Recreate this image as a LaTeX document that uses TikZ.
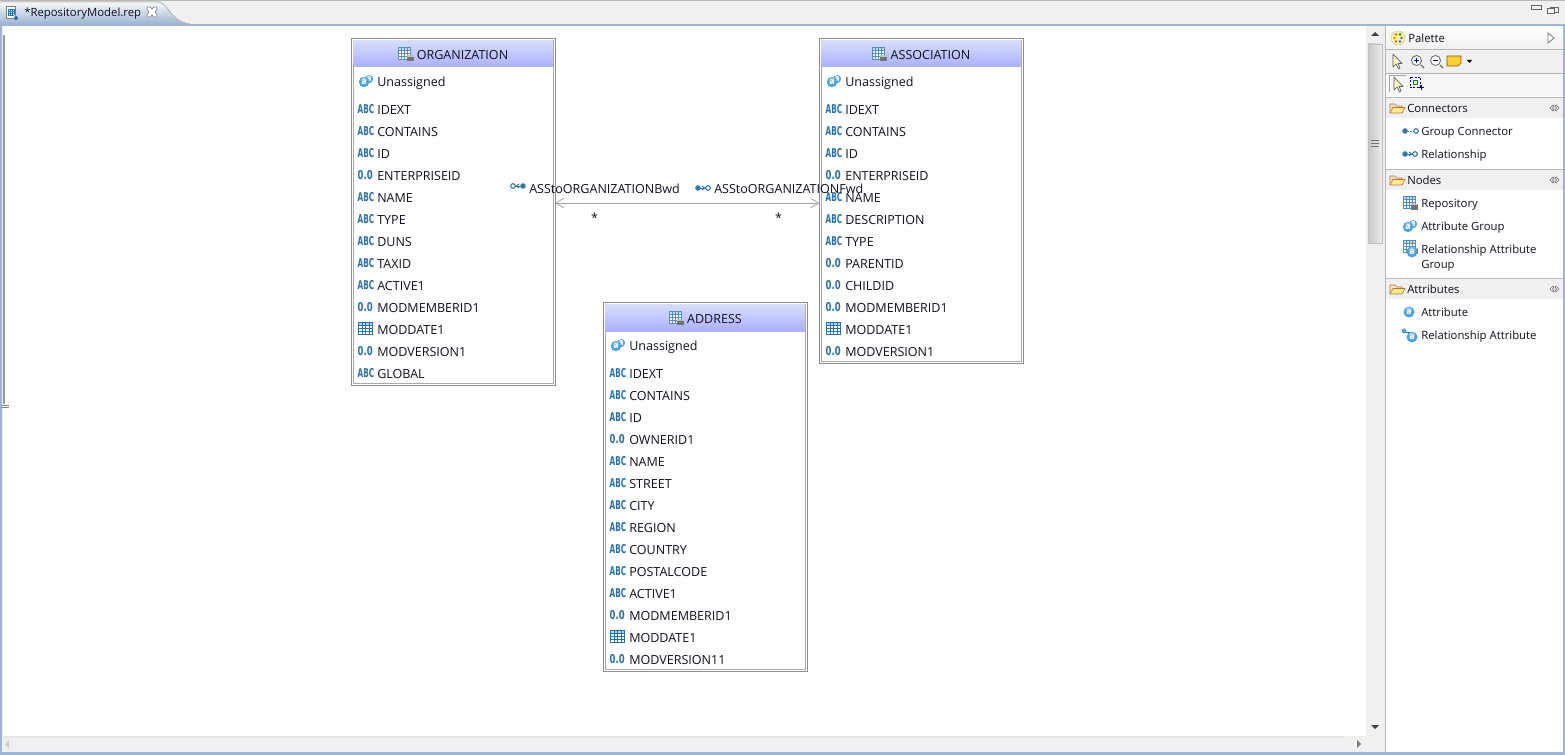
\documentclass[tikz,border=0pt]{standalone}
\usepackage{fontspec}
\setmainfont{Open Sans}
\newfontfamily\iconfont{DejaVu Sans}
\usetikzlibrary{arrows.meta,calc}
\definecolor{edgeg}{HTML}{8E8E8E}
\definecolor{hdrtop}{HTML}{D6DDFB}
\definecolor{hdrbot}{HTML}{ABAFFF}
\definecolor{iconb}{HTML}{2A6FA8}
\definecolor{iconl}{HTML}{4FA3DC}
\definecolor{tabblue}{HTML}{9DB5D2}
\definecolor{panelg}{HTML}{F0F0F0}
\definecolor{sepg}{HTML}{B8B8B8}
\definecolor{txt}{HTML}{10101E}
\newcommand{\fs}{\fontsize{9.4}{10}\selectfont}
\newcommand{\fp}{\fontsize{8.5}{10}\selectfont}
\tikzset{
  lbl/.style={anchor=base west,yshift=-3.9pt,inner sep=0pt,text=txt,font=\fs},
  plbl/.style={lbl,yshift=0.75pt,font=\fp},
  ctr/.style={inner sep=0pt,text=txt,font=\fs},
  entitybox/.style={draw=edgeg,fill=white,line width=0.75pt,anchor=north west,inner sep=0pt,outer sep=0pt,rectangle},
  innerrim/.style={draw=edgeg!75,line width=0.75pt},
  relline/.style={draw=edgeg!80,line width=0.6pt,{Straight Barb[length=6pt,width=7pt]}-{Straight Barb[length=6pt,width=7pt]}},
  mult/.style={inner sep=0pt,text=txt,font=\fs},
  tcell/.style={draw=iconb,line width=0.35pt},
}
\newcommand{\icABC}[2]{\node[anchor=west,inner sep=0pt,text=iconb,font=\iconfont\fontsize{7.6}{9}\bfseries\selectfont,xscale=0.72,yscale=1.2] at (#1,#2) {ABC};}
\newcommand{\icNum}[2]{\node[anchor=west,inner sep=0pt,text=iconb,font=\iconfont\fontsize{7.6}{9}\bfseries\selectfont,xscale=0.84,yscale=1.2] at (#1,#2) {0.0};}
\newcommand{\icTab}[2]{\begin{scope}[shift={(#1,#2)}]
  \fill[white] (0,-6) rectangle (14,6);
  \fill[iconl!45] (0,-6) rectangle (14,-3);
  \foreach \k in {3.5,7,10.5}{\draw[tcell] (\k,-6) -- (\k,6);}
  \foreach \k in {-3,0,3}{\draw[tcell] (0,\k) -- (14,\k);}
  \draw[tcell,line width=.5pt] (0,-6) rectangle (14,6);
\end{scope}}
\newcommand{\icAttr}[3][1]{\begin{scope}[shift={(#2,#3)},scale=#1]
  \fill[iconl] (0,0) circle (5.5);
  \fill[white,opacity=.35] (0,-2) circle (3);
  \node[inner sep=0pt,text=white,font=\fontsize{6.5}{7}\bfseries\selectfont] at (0,0) {a};
\end{scope}}
\newcommand{\icGroup}[2]{\icAttr[.75]{#1+10}{#2-2}\icAttr[.95]{#1+5}{#2+1}}
\newcommand{\icRepo}[2]{\begin{scope}[shift={(#1,#2)}]
  \fill[white] (0,-7) rectangle (12,5);
  \fill[iconl!35] (0,-7) rectangle (12,-4);
  \foreach \k in {3,6,9}{\draw[iconb!80,line width=0.35pt] (\k,-7) -- (\k,5);}
  \foreach \k in {-4,-1,2}{\draw[iconb!80,line width=0.35pt] (0,\k) -- (12,\k);}
  \draw[iconb!80,line width=0.35pt] (0,-7) rectangle (12,5);
  \fill[black!55] (8,1) rectangle (15,7);
  \fill[black!25] (8,1) rectangle (15,2.5);
\end{scope}}
\newcommand{\icRelA}[2]{\begin{scope}[shift={(#1,#2)}]
  \draw[iconb,line width=0.7pt] (3,0) -- (12,0);
  \fill[iconb!80!iconl] (3,0) circle (2.8);
  \draw[iconb,fill=white,line width=0.8pt] (13,0) circle (2.3);
  \draw[iconb,line width=0.7pt] (7,-2) -- (9.5,0) -- (7,2);
\end{scope}}
\newcommand{\icRelB}[2]{\begin{scope}[shift={(#1,#2)}]
  \draw[iconb,line width=0.7pt] (3,0) -- (12,0);
  \draw[iconb,fill=white,line width=0.8pt] (3,0) circle (2.3);
  \fill[iconb!80!iconl] (13,0) circle (2.8);
  \draw[iconb,line width=0.7pt] (9,-2) -- (6.5,0) -- (9,2);
\end{scope}}
\newcommand{\icFolder}[2]{\begin{scope}[shift={(#1,#2)}]
  \draw[draw=black!45!orange!70,fill=orange!25!white,line width=0.5pt,line join=round] (1,5) -- (1,-4) -- (6,-4) -- (8,-2) -- (13,-2) -- (13,0);
  \draw[draw=black!35!orange!80,fill=orange!35!yellow!45!white,line width=0.5pt,line join=round] (1,5) -- (4,-0.5) -- (16,-0.5) -- (13,5) -- cycle;
\end{scope}}
\newcommand{\icDrawer}[2]{\begin{scope}[shift={(#1,#2)}]
  \draw[black!55,line width=0.5pt,fill=white] (0,0) -- (3,-3) -- (4,-2) -- (2.5,0) -- (4,2) -- (3,3) -- cycle;
  \draw[black!55,line width=0.5pt,fill=white] (9,0) -- (6,-3) -- (5,-2) -- (6.5,0) -- (5,2) -- (6,3) -- cycle;
\end{scope}}
% entity: node name, left, top, height, title, rows
\newcommand{\entity}[6]{
  \node[entitybox,minimum width=203.5*0.75pt,minimum height=#4*0.75pt] (#1) at (#2-0.5,#3) {};
  \draw[innerrim] (#2+1.5,#3+2) rectangle (#2+201,#3+#4-2);
  \shade[top color=hdrtop,bottom color=hdrbot] (#2+1.5,#3+2) rectangle (#2+201,#3+28);
  \draw[draw=edgeg,line width=.75pt] (#2-0.5,#3) rectangle (#2+203,#3+#4);
  \node[ctr,anchor=center] at (#2+110.5,#3+16.3) (#1title) {#5};
  \begin{scope}[shift={(#1title.west)}]\icRepo{-18}{-1}\end{scope}
  \icGroup{#2+7}{#3+42}
  \node[lbl] (#1group) at (#2+25,#3+42) {Unassigned};
  \foreach \ty/\tn [count=\ti from 0] in {#6}{
    \pgfmathsetmacro{\ry}{#3+70+22*\ti}
    \ifnum\ty=0 \icABC{#2+5.5}{\ry-0.2}\fi
    \ifnum\ty=1 \icNum{#2+5.5}{\ry-0.2}\fi
    \ifnum\ty=2 \icTab{#2+6.5}{\ry-0.5}\fi
    \node[lbl] at (#2+25,\ry) {\tn};
  }
}
\begin{document}
\begin{tikzpicture}[x=0.75pt,y=-0.75pt]
\useasboundingbox (0,0) rectangle (1565,755);
\fill[panelg] (0,0) rectangle (1565,755);
% top tab strip
\draw[sepg,line width=0.75pt] (0,0.5) -- (1565,0.5);
\fill[tabblue] (0,24) rectangle (1565,26);
\shade[top color=white!92!tabblue,bottom color=tabblue] (0,2) -- (158,2) .. controls (168,2) and (170,22) .. (190,24) -- (0,24) -- cycle;
\draw[sepg,line width=0.75pt] (0,2) -- (158,2) .. controls (168,2) and (170,22) .. (190,24);
\fill[black!50] (6,6) rectangle (16,19);
\fill[white] (7,7) rectangle (15,18);
\foreach \k in {8,10,12,14}{\draw[iconb,line width=0.4pt] (\k,9) -- (\k,15);}
\foreach \k in {9,11,13,15}{\draw[iconb,line width=0.4pt] (8,\k) -- (14,\k);}
\fill[iconb] (16,18) circle (2);
\node[plbl] (tab) at (24,12.5) {*RepositoryModel.rep};
\draw[black!45,fill=white,line width=0.6pt] (147,7) -- (150,7) -- (152,9) -- (154,7) -- (157,7) -- (157,9) -- (155,12) -- (157,15) -- (157,17) -- (154,17) -- (152,15) -- (150,17) -- (147,17) -- (147,15) -- (149,12) -- (147,9) -- cycle;
% window buttons
\draw[black!60,line width=0.6pt] (1531,5) rectangle (1541,9);
\draw[black!60,line width=0.6pt,fill=panelg] (1550,7) rectangle (1558,12);
\draw[black!60,line width=0.6pt,fill=panelg] (1547,8) rectangle (1554,13);
% canvas
\fill[white] (3,26) rectangle (1366,736);
\fill[black!40] (3,35) rectangle (5,404);
\draw[black!50,line width=0.5pt] (2,405) -- (9,405) (2,407.5) -- (9,407.5);
% bottom strip
\fill[tabblue] (0,752) rectangle (1565,755);
\fill[tabblue] (0,26) rectangle (2,755);
\fill[tabblue] (1563,26) rectangle (1565,755);
% scrollbars
\fill[panelg] (1366,26) rectangle (1384,752);
\fill[panelg] (3,736) rectangle (1384,752);
\shade[left color=black!22,right color=black!7] (1368,44) rectangle (1382,243);
\draw[black!25,line width=0.5pt] (1368,44) rectangle (1382,243);
\draw[black!55,line width=0.6pt] (1371,140.5) -- (1379,140.5) (1371,143.5) -- (1379,143.5) (1371,146.5) -- (1379,146.5);
\fill[black!75] (1375,32) -- (1379,36) -- (1371,36) -- cycle;
\fill[black!75] (1371,725) -- (1379,725) -- (1375,729) -- cycle;
\fill[black!50] (1357,740) -- (1361,744) -- (1357,748) -- cycle;
\fill[black!20] (9,740) -- (5,744) -- (9,748) -- cycle;
\draw[black!10,line width=1pt] (3,737) -- (1345,737);
\fill[sepg] (1384.5,26) rectangle (1386,752);
% palette
\fill[white] (1386,26) rectangle (1563,752);
\shade[top color=white,bottom color=panelg] (1386,27) rectangle (1563,49);
\draw[sepg,line width=.75pt] (1386,49.5) -- (1563,49.5);
\begin{scope}[shift={(1398,38)}]
 \fill[yellow!40!white,draw=black!25,line width=.4pt] (0,0) circle (7);
 \fill[red!70] (-2,-3.5) circle (1.3); \fill[green!60!black] (2,-3.5) circle (1.3);
 \fill[blue!70] (3.5,0) circle (1.3); \fill[orange] (-3.5,0) circle (1.3);
 \fill[red!70] (-2,3.5) circle (1.3); \fill[blue!70] (2,3.5) circle (1.3);
\end{scope}
\node[plbl] (palette) at (1408,38) {Palette};
\draw[black!55,line width=.6pt,fill=white] (1548,33) -- (1554,38) -- (1548,43) -- cycle;
\fill[panelg] (1386,50) rectangle (1563,73);
\draw[black!30,line width=.6pt] (1386,73.5) -- (1563,73.5);
\fill[panelg!60!white] (1386,74) rectangle (1563,96);
\newcommand{\icArrow}[2]{\draw[black!65,fill=yellow!25!white,line width=.5pt,line join=round] (#1,#2-7) -- (#1,#2+6) -- (#1+3,#2+3) -- (#1+5.5,#2+8) -- (#1+7,#2+7) -- (#1+5,#2+2.5) -- (#1+9,#2+2.5) -- cycle;}
\icArrow{1393}{61}
\draw[black!60,line width=1pt] (1421,65) -- (1424,68);
\draw[black!55,fill=white,line width=.7pt] (1416.5,60.5) circle (5);
\draw[blue!60!black,line width=.8pt] (1414,60.5) -- (1419,60.5) (1416.5,58) -- (1416.5,63);
\draw[black!60,line width=1pt] (1440,65) -- (1443,68);
\draw[black!55,fill=white,line width=.7pt] (1435.5,60.5) circle (5);
\draw[blue!60!black,line width=.8pt] (1433,60.5) -- (1438,60.5);
\draw[black!40!orange,fill=yellow!60!orange!80,line width=.5pt] (1447,56) -- (1461,56) -- (1461,63) -- (1458,66) -- (1447,66) -- cycle;
\fill[black] (1467,60) -- (1472,60) -- (1469.5,63) -- cycle;
\draw[black!35,fill=panelg!60!white,line width=.6pt] (1389,75) -- (1389,92) (1389,75) -- (1406,75);
\icArrow{1394}{84}
\draw[blue!50!black,dash pattern=on 1.5pt off 1pt,line width=.6pt] (1410,77) rectangle (1420,87);
\draw[black!45!green,line width=.5pt,fill=white] (1413,80) rectangle (1417,84);
\draw[blue!50!black,line width=.7pt] (1421,85) -- (1421,90) (1418.5,87.5) -- (1423.5,87.5);
% palette drawers
\newcommand{\drawerhead}[3]{
  \fill[sepg] (1386,#2-11) rectangle (1563,#2-10);
  \fill[panelg] (1386,#2-10) rectangle (1563,#2+10);
  \icFolder{1389}{#2}
  \node[plbl] (#3) at (1407,#2) {#1};
  \icDrawer{1550}{#2}
}
\drawerhead{Connectors}{108}{dconn}
\drawerhead{Nodes}{180}{dnodes}
\drawerhead{Attributes}{289}{dattr}
\begin{scope}[shift={(1402,131)}]
 \draw[iconb,line width=.6pt,dash pattern=on 1pt off 1pt] (3,0) -- (13,0);
 \fill[iconb!80!iconl] (3,0) circle (2.8);
 \draw[iconb,fill=white,line width=.8pt] (14,0) circle (2.3);
\end{scope}
\node[plbl] (pgc) at (1421,131) {Group Connector};
\icRelA{1402}{154}
\node[plbl] (prel) at (1421,154) {Relationship};
\icRepo{1403}{203}
\node[plbl] (prepo) at (1421,203) {Repository};
\icGroup{1403}{226}
\node[plbl] (pag) at (1421,226) {Attribute Group};
\icRepo{1403}{247}
\icAttr{1412}{252}
\node[plbl] (prag) at (1421,249) {Relationship Attribute};
\node[plbl] (prag2) at (1421,264) {Group};
\icAttr{1409}{312}
\node[plbl] (pa) at (1421,312) {Attribute};
\draw[iconb,line width=.7pt] (1404,332) -- (1414,332);
\fill[iconl] (1404,331) circle (2.5);
\icAttr{1412}{337}
\node[plbl] (pra) at (1421,335) {Relationship Attribute};
% entities
\entity{org}{352}{39}{346}{ORGANIZATION}{0/IDEXT,0/CONTAINS,0/ID,1/ENTERPRISEID,0/NAME,0/TYPE,0/DUNS,0/TAXID,0/ACTIVE1,1/MODMEMBERID1,2/MODDATE1,1/MODVERSION1,0/GLOBAL}
\entity{assoc}{820}{39}{324}{ASSOCIATION}{0/IDEXT,0/CONTAINS,0/ID,1/ENTERPRISEID,0/NAME,0/DESCRIPTION,0/TYPE,1/PARENTID,1/CHILDID,1/MODMEMBERID1,2/MODDATE1,1/MODVERSION1}
\entity{addr}{604}{303}{368}{ADDRESS}{0/IDEXT,0/CONTAINS,0/ID,1/OWNERID1,0/NAME,0/STREET,0/CITY,0/REGION,0/COUNTRY,0/POSTALCODE,0/ACTIVE1,1/MODMEMBERID1,2/MODDATE1,1/MODVERSION11}
% relationship
\coordinate (relL) at (org.east |- 0,203);
\coordinate (relR) at (assoc.west |- 0,203);
\draw[relline] (relL) -- (relR);
\icRelB{510}{186}
\node[lbl] (bwd) at (529,188) {ASStoORGANIZATIONBwd};
\icRelA{695}{188}
\node[lbl] (fwd) at (714,188) {ASStoORGANIZATIONFwd};
\node[mult] (m1) at (594.5,218) {*};
\node[mult] (m2) at (778.5,218) {*};
\end{tikzpicture}
\end{document}
